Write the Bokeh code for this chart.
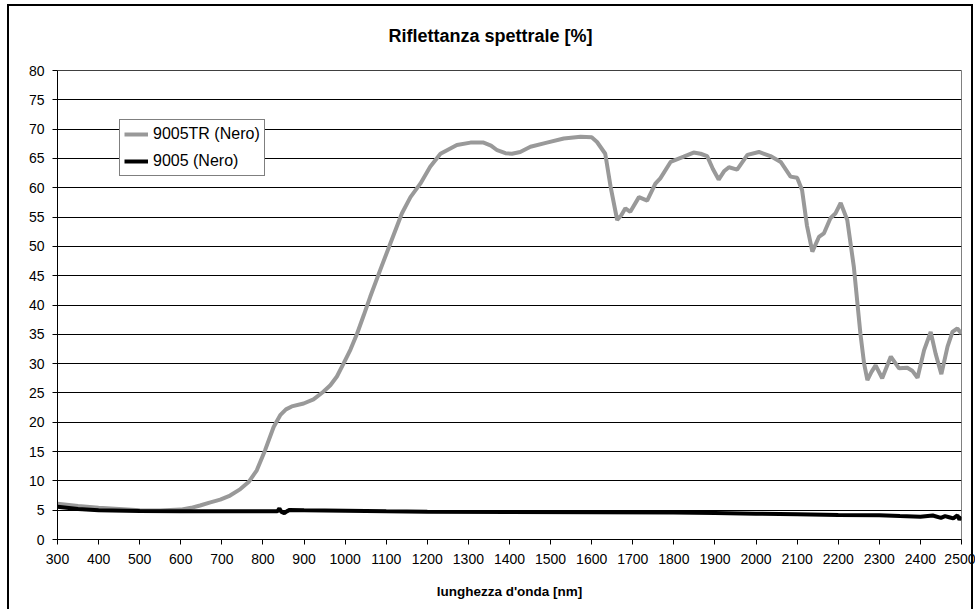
from bokeh.plotting import figure
from bokeh.embed import file_html
from bokeh.resources import INLINE
from bokeh.models import FixedTicker, Span, InlineStyleSheet
from bokeh.core.properties import value

# ---- data ----
wl_tr = [300, 350, 400, 450, 500, 550, 600, 625, 647, 670, 696, 720, 745, 765, 785,
         805, 826, 842, 856, 870, 899, 923, 947, 964, 980, 996, 1013, 1029, 1045, 1061,
         1085, 1110, 1138, 1159, 1183, 1207, 1232, 1272, 1305, 1337, 1355, 1370, 1390,
         1406, 1426, 1451, 1491, 1532, 1573, 1600, 1613, 1633, 1646, 1662, 1672, 1682,
         1694, 1715, 1735, 1755, 1767, 1792, 1824, 1848, 1865, 1881, 1895, 1909, 1922,
         1934, 1954, 1979, 2007, 2035, 2060, 2084, 2100, 2112, 2124, 2137, 2153, 2165,
         2181, 2193, 2206, 2222, 2238, 2254, 2263, 2271, 2281, 2291, 2307, 2328, 2348,
         2368, 2380, 2393, 2409, 2425, 2437, 2451, 2466, 2478, 2490, 2500]
refl_tr = [6.1, 5.7, 5.4, 5.2, 5.0, 4.95, 5.1, 5.4, 5.8, 6.3, 6.8, 7.5, 8.6, 9.8, 11.8,
           15.2, 19.2, 21.2, 22.2, 22.7, 23.2, 23.9, 25.2, 26.3, 27.8, 30.0, 32.4, 35.1, 38.2, 41.4,
           45.9, 50.5, 55.6, 58.4, 60.7, 63.6, 65.8, 67.3, 67.7, 67.7, 67.2, 66.4, 65.9,
           65.8, 66.1, 67.0, 67.7, 68.4, 68.7, 68.6, 67.8, 65.8, 60.2, 54.5, 55.3, 56.5,
           55.9, 58.4, 57.8, 60.7, 61.6, 64.4, 65.3, 66.0, 65.8, 65.4, 63.2, 61.4, 62.8,
           63.5, 63.1, 65.6, 66.1, 65.4, 64.4, 61.9, 61.7, 59.6, 53.5, 49.1, 51.6, 52.2,
           54.8, 55.6, 57.4, 54.5, 46.5, 35.1, 30.0, 27.2, 28.6, 29.7, 27.5, 31.2, 29.2,
           29.3, 28.8, 27.6, 32.3, 35.4, 31.7, 28.2, 32.9, 35.4, 36.0, 35.1]

wl_k = [300, 350, 400, 500, 600, 700, 800, 835, 840, 845, 852, 858, 865, 900, 1000,
        1100, 1200, 1400, 1600, 1800, 1900, 2000, 2100, 2200, 2300, 2350, 2400, 2430,
        2450, 2460, 2470, 2480, 2490, 2495, 2500]
refl_k = [5.6, 5.2, 5.0, 4.85, 4.8, 4.8, 4.8, 4.8, 5.3, 4.7, 4.5, 4.8, 5.05, 5.0, 4.9,
          4.8, 4.75, 4.7, 4.65, 4.6, 4.5, 4.4, 4.3, 4.2, 4.15, 4.0, 3.9, 4.1,
          3.7, 4.0, 3.8, 3.6, 4.1, 3.4, 3.9]

x_ticks = list(range(300, 2501, 100))
y_ticks = list(range(0, 81, 5))

title_text = "Riflettanza spettrale [%]"
x_title = "lunghezza d'onda [nm]"
name_tr = "9005TR (Nero)"
name_k = "9005 (Nero)"

FONT = "Liberation Sans"

p = figure(width=975, height=609, x_range=(300, 2500), y_range=(0, 80),
           output_backend="svg", toolbar_location=None,
           min_border_left=57, min_border_right=14, min_border_top=70,
           min_border_bottom=70, title=title_text)

# outer chart border (left, top, right) drawn over the canvas by CSS
border_css = (":host::after { content: ''; position: absolute; left: 7px; top: 4px; "
              "width: 962px; height: 605px; border: 2px solid black; border-bottom: none; "
              "pointer-events: none; z-index: 10; }")
p.stylesheets = [InlineStyleSheet(css=border_css)]

p.title.align = "left"
p.title.offset = 331
p.title.vertical_align = "top"
p.title.text_font = FONT
p.title.text_font_size = "18px"
p.title.text_font_style = "bold"
p.title.text_color = "black"
p.title.standoff = 46

p.outline_line_color = "#808080"
p.outline_line_width = 1
p.background_fill_color = "white"
p.border_fill_color = "white"

p.xgrid.visible = False
p.ygrid.ticker = FixedTicker(ticks=y_ticks)
p.ygrid.grid_line_color = "black"
p.ygrid.grid_line_width = 1

for ax in (p.xaxis[0], p.yaxis[0]):
    ax.axis_line_color = "black"
    ax.axis_line_width = 1
    ax.major_tick_line_color = "black"
    ax.major_tick_in = 0
    ax.major_tick_out = 5
    ax.minor_tick_line_color = None
    ax.major_label_text_font = FONT
    ax.major_label_text_font_size = "14px"
    ax.major_label_text_color = "black"

p.xaxis[0].ticker = FixedTicker(ticks=x_ticks)
p.yaxis[0].ticker = FixedTicker(ticks=y_ticks)
p.xaxis[0].major_label_standoff = 9
p.yaxis[0].major_label_standoff = 8

p.xaxis[0].axis_label = x_title
p.xaxis[0].axis_label_text_font = FONT
p.xaxis[0].axis_label_text_font_size = "13.5px"
p.xaxis[0].axis_label_text_font_style = "bold"
p.xaxis[0].axis_label_text_color = "black"
p.xaxis[0].axis_label_standoff = 17

p.add_layout(Span(location=80, dimension="width", line_color="black", line_width=1))

p.line(wl_tr, refl_tr, line_color="#999999", line_width=4, legend_label=name_tr)
p.line(wl_k, refl_k, line_color="black", line_width=4, legend_label=name_k)

lg = p.legend[0]
lg.location = (62, 363)
lg.border_line_color = "black"
lg.border_line_width = 1
lg.background_fill_color = "white"
lg.background_fill_alpha = 1
lg.label_text_font = FONT
lg.label_text_font_size = "16px"
lg.label_text_color = "black"
lg.glyph_width = 24
lg.glyph_height = 20
lg.label_height = 20
lg.label_standoff = 5
lg.padding = 4
lg.spacing = 7
lg.margin = 0

open("out.html", "w").write(file_html(p, INLINE))
